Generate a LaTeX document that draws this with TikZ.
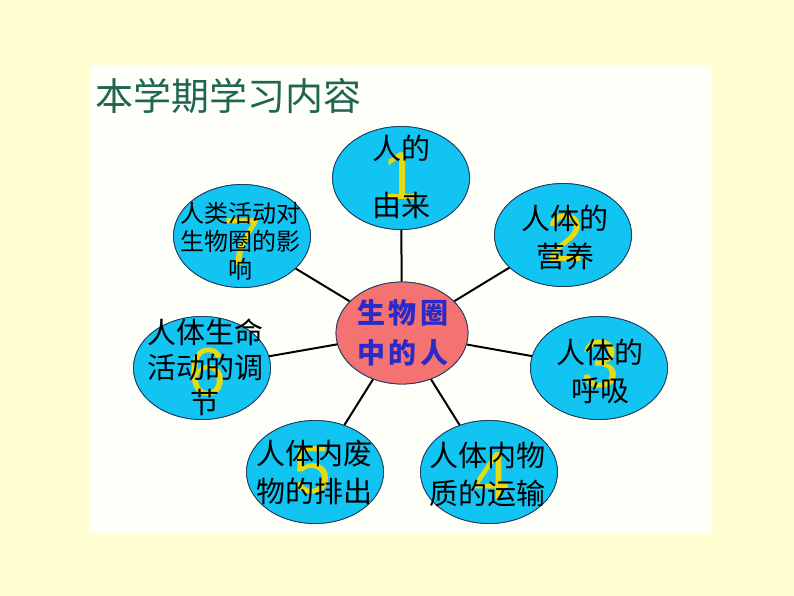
\documentclass[tikz,border=0pt]{standalone}
\usepackage{fontspec}
\newfontfamily\cjk{Noto Sans CJK SC}
\newfontfamily\cjkwide[LetterSpace=12]{Noto Sans CJK SC}
\newfontfamily\numfont{Liberation Sans}
\usetikzlibrary{shapes.geometric}
\definecolor{pagebg}{HTML}{FFFFD2}
\definecolor{panelbg}{HTML}{FFFFFA}
\definecolor{bubblefill}{HTML}{12C4F2}
\definecolor{bubbleline}{HTML}{1E3A5A}
\definecolor{hubfill}{HTML}{F47272}
\definecolor{hubtext}{HTML}{2A2AC8}
\definecolor{titlegreen}{HTML}{1E6650}
\definecolor{numyellow}{HTML}{E8DA10}
\tikzset{
    bubble/.style={draw=bubbleline, line width=0.8pt, fill=bubblefill, ellipse, minimum width=137pt, minimum height=103pt, inner sep=0pt},
    hub/.style={bubble, fill=hubfill, minimum width=132pt, minimum height=102pt},
    num/.style={text=numyellow, font=\numfont\fontsize{68}{68}\selectfont},
    topic/.style={align=center, inner sep=0pt, font=\cjk\fontsize{29}{38}\selectfont},
    spoke/.style={line width=2pt, black}
}
\begin{document}
\begin{tikzpicture}[x=1pt, y=-1pt]
    % Background and panel
    \fill [pagebg] (0,0) rectangle (794,596);
    \useasboundingbox (0,0) rectangle (794,596);
    \fill [panelbg] (90,66) rectangle (712,533);

    % Title
    \node [anchor=west, inner sep=0pt, text=titlegreen, font=\cjk\fontsize{38}{38}\selectfont] (title) at (95,96) {本学期学习内容};

    % Hub and bubbles
    \node [hub] (hub) at (402,333) {};
    \node [bubble] (b1) at (401,178) {};
    \node [bubble] (b2) at (563,235) {};
    \node [bubble] (b3) at (599,368) {};
    \node [bubble] (b4) at (489,472) {};
    \node [bubble] (b5) at (315,472) {};
    \node [bubble] (b6) at (202,368) {};
    \node [bubble] (b7) at (242,236) {};

    % Spokes
    \foreach \b in {b1,b2,b3,b4,b5,b6,b7}
        \draw [spoke] (hub) -- (\b);
    \node [hub] at (hub) {};
    \foreach \b in {b1,b2,b3,b4,b5,b6,b7}
        \node [bubble] at (\b) {};

    % Numbers
    \node [num] (n1) at (401,176) {1};
    \node [num] (n2) at (565,238) {2};
    \node [num] (n3) at (600,364) {3};
    \node [num] (n4) at (491,476) {4};
    \node [num] (n5) at (312,470) {5};
    \node [num] (n6) at (207,372) {6};
    \node [num] (n7) at (242,242) {7};

    % Topics
    \node [topic, font=\cjk\fontsize{29}{57}\selectfont] (t1) at (401,177) {人的\\由来};
    \node [topic] (t2) at (565,238) {人体的\\营养};
    \node [topic] (t3) at (600,371) {人体的\\呼吸};
    \node [topic] (t4) at (487,475) {人体内物\\质的运输};
    \node [topic] (t5) at (314,472) {人体内废\\物的排出};
    \node [topic, font=\cjk\fontsize{29}{35}\selectfont] (t6) at (205,367) {人体生命\\活动的调\\节};
    \node [topic, font=\cjk\fontsize{24}{28}\selectfont] (t7) at (240,241) {人类活动对\\生物圈的影\\响};

    % Hub label
    \node [align=center, inner sep=0pt, text=hubtext, font=\cjkwide\bfseries\fontsize{28}{40}\selectfont] (hublabel) at (403,333) {生物圈\\中的人};
\end{tikzpicture}
\end{document}
